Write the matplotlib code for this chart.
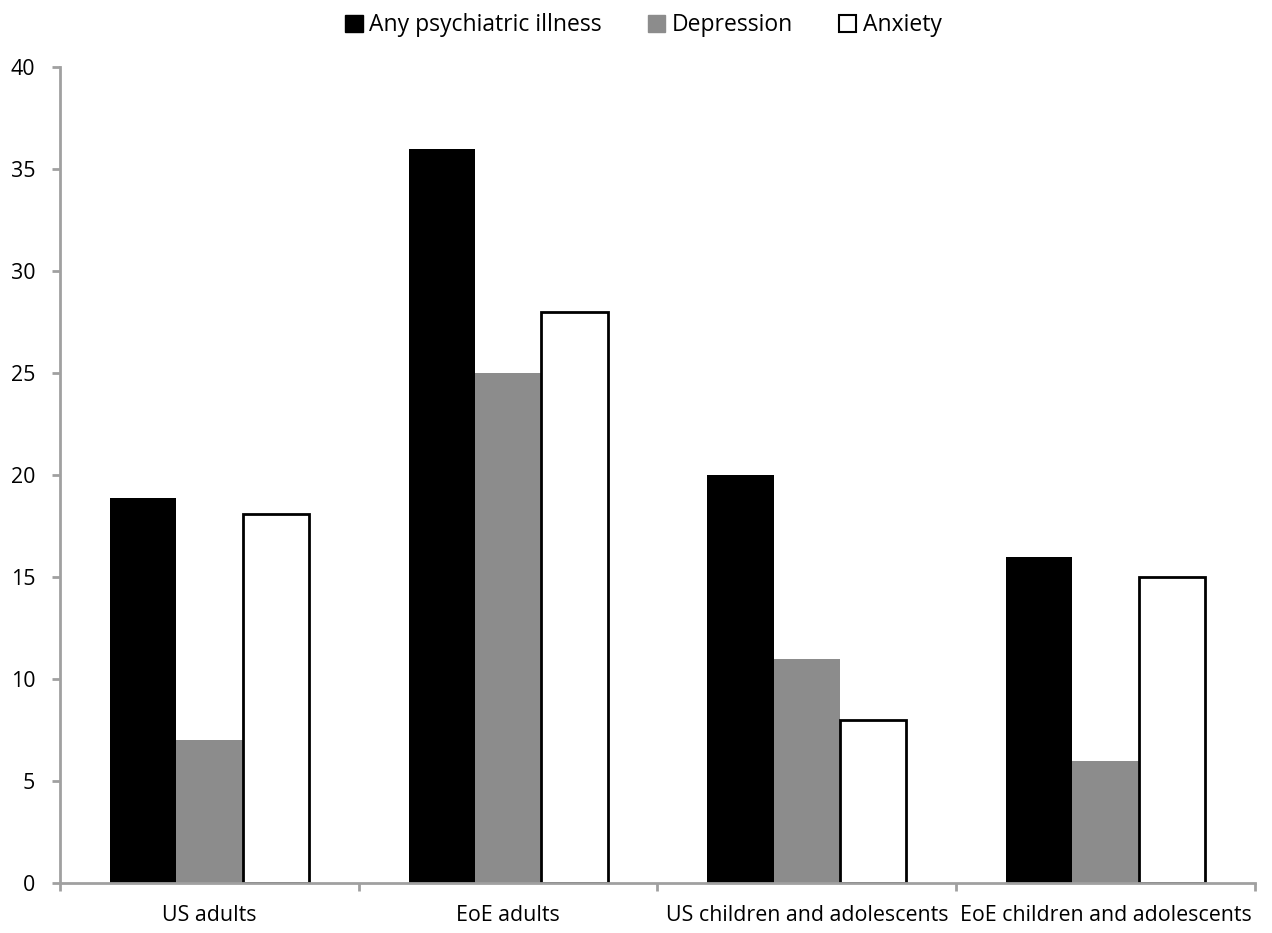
import numpy as np
import matplotlib.pyplot as plt
from matplotlib.patches import Patch

plt.rcParams['font.family'] = ['Open Sans', 'DejaVu Sans']

groups = ['US adults', 'EoE adults', 'US children and adolescents', 'EoE children and adolescents']
series = ['Any psychiatric illness', 'Depression', 'Anxiety']
any_illness = [18.9, 36, 20, 16]
depression = [7, 25, 11, 6]
anxiety = [18.1, 28, 8, 15]

fig = plt.figure(figsize=(12.72, 9.33), dpi=100)
ax = fig.add_axes([0.0472, 0.0536, 0.9394, 0.8744])

x = np.arange(len(groups))
w = 0.222
ax.bar(x - w, any_illness, w, color='black', edgecolor='black', linewidth=0)
ax.bar(x, depression, w, color='#8c8c8c', edgecolor='#8c8c8c', linewidth=0)
ax.bar(x + w, anxiety, w, color='white', edgecolor='black', linewidth=2)

ax.set_xlim(-0.5, len(groups) - 0.5)
ax.set_ylim(0, 40)
ax.set_yticks(np.arange(0, 41, 5))
ax.set_xticks(x)
ax.set_xticklabels(groups)
ax.set_xticks(np.arange(-0.5, len(groups), 1), minor=True)

for s in ['top', 'right']:
    ax.spines[s].set_visible(False)
for s in ['left', 'bottom']:
    ax.spines[s].set_color('#a0a0a0')
    ax.spines[s].set_linewidth(2)

ax.tick_params(axis='x', which='major', length=0, labelsize=15.4, pad=16)
ax.tick_params(axis='x', which='minor', length=6, width=2, color='#a0a0a0', direction='out')
ax.tick_params(axis='y', length=6, width=2, color='#a0a0a0', labelsize=15.4, pad=12)

handles = [Patch(facecolor='black', edgecolor='black'),
           Patch(facecolor='#8c8c8c', edgecolor='#8c8c8c'),
           Patch(facecolor='white', edgecolor='black', linewidth=1.5)]
fig.legend(handles, series, loc='upper center', bbox_to_anchor=(0.506, 1.008), ncol=3,
           frameon=False, fontsize=16.5, handlelength=0.75, handleheight=0.75,
           handletextpad=0.3, columnspacing=2.0)

fig.savefig('out.png', dpi=100)
